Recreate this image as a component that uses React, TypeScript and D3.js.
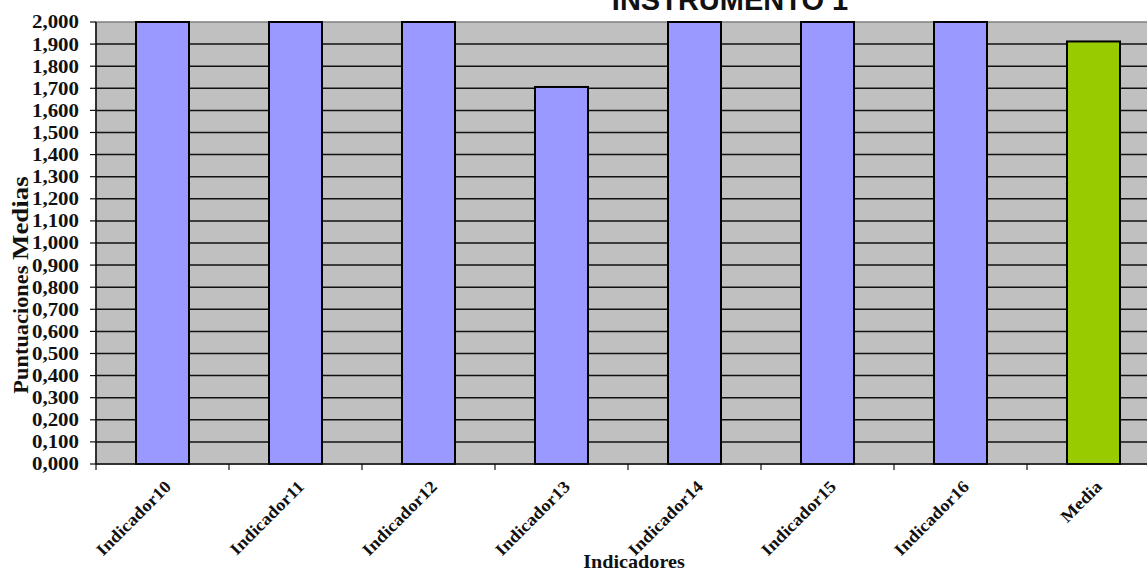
import React from "react";
import * as d3 from "d3";

const categories = ["Indicador10", "Indicador11", "Indicador12", "Indicador13", "Indicador14", "Indicador15", "Indicador16", "Media"];
const values = [2.0, 2.0, 2.0, 1.706, 2.0, 2.0, 2.0, 1.912];
const yTicks = d3.range(0, 2.0001, 0.1);
const title = "INSTRUMENTO 1";
const xTitle = "Indicadores";

const W = 1147, H = 574;
const left = 96, top = 22, bottom = 464, right = 96 + 8 * 133;

export default function App() {
  const x = d3.scaleBand<string>().domain(categories).range([left, right]).paddingInner(0).paddingOuter(0);
  const y = d3.scaleLinear().domain([0, 2]).range([bottom, top]);
  const fmtLabel = (v: number) => {
    const s = v.toFixed(3);
    const [a, b] = s.split(".");
    return a + "," + b;
  };
  const barW = 53;
  const serif = "'Liberation Serif', 'Times New Roman', serif";
  return (
    <svg width={W} height={H} style={{ position: "absolute", left: 0, top: 0, background: "#fff" }}>
      <rect x={left} y={top} width={right - left} height={bottom - top} fill="#C0C0C0" stroke="#808080" strokeWidth={1.5} />
      {yTicks.map((t, i) => (
        <g key={i}>
          {i > 0 && i < yTicks.length - 1 && (
            <line x1={left} x2={right} y1={y(t)} y2={y(t)} stroke="#111" strokeWidth={1.5} />
          )}
          <line x1={left - 6} x2={left} y1={y(t)} y2={y(t)} stroke="#111" strokeWidth={1.2} />
          <text transform={`translate(79,${y(t)}) scale(1.1,1)`} dy="0.34em" textAnchor="end" fontFamily={serif} fontWeight="bold" fontSize={19} fill="#111">
            {fmtLabel(t)}
          </text>
        </g>
      ))}
      {categories.map((c, i) => (
        <rect key={c} x={(x(c) as number) + x.bandwidth() / 2 - barW / 2} y={y(values[i])} width={barW} height={bottom - y(values[i])}
          fill={c === "Media" ? "#99CC00" : "#9999FF"} stroke="#000" strokeWidth={2} />
      ))}
      <line x1={left} x2={left} y1={top} y2={bottom} stroke="#111" strokeWidth={1.5} />
      <line x1={left} x2={right} y1={bottom} y2={bottom} stroke="#111" strokeWidth={1.5} />
      {d3.range(0, categories.length + 1).map((i) => (
        <line key={i} x1={left + i * x.bandwidth()} x2={left + i * x.bandwidth()} y1={bottom} y2={bottom + 6} stroke="#111" strokeWidth={1.2} />
      ))}
      {categories.map((c) => {
        const cx = (x(c) as number) + x.bandwidth() / 2 + 6;
        const cy = bottom + 20;
        return (
          <text key={c} transform={`translate(${cx},${cy}) rotate(-45) scale(1.1,1)`} textAnchor="end" dy="0.3em" fontFamily={serif} fontWeight="bold" fontSize={17} fill="#111">
            {c}
          </text>
        );
      })}
      <text transform="translate(634,568) scale(1.12,1)" textAnchor="middle" fontFamily={serif} fontWeight="bold" fontSize={18} fill="#111">{xTitle}</text>
      <text transform={`translate(28,${285}) rotate(-90) scale(1.12,1)`} textAnchor="middle" fontFamily={serif} fontWeight="bold" fill="#111">
        <tspan fontSize={20}>Puntuaciones </tspan>
        <tspan fontSize={24}>Medias</tspan>
      </text>
      <text x={730} y={10} textAnchor="middle" fontFamily="'Liberation Sans', Arial, sans-serif" fontWeight="bold" fontSize={29} fill="#111">{title}</text>
    </svg>
  );
}
